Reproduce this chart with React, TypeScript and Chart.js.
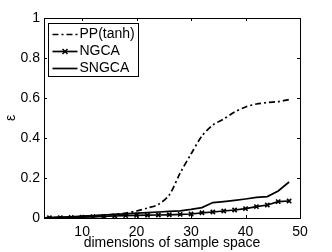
import React, { useEffect, useRef } from "react";
import { Chart, registerables } from "chart.js";

Chart.register(...registerables);

const dims = [2, 4, 6, 8, 10, 12, 14, 16, 18, 20, 22, 24, 26, 28, 30, 32, 34, 36, 38, 40, 42, 44, 46, 48];
const ppTanh = [0, 0.001, 0.002, 0.004, 0.007, 0.01, 0.014, 0.018, 0.025, 0.035, 0.05, 0.068, 0.115, 0.225, 0.32, 0.41, 0.465, 0.495, 0.53, 0.555, 0.57, 0.577, 0.582, 0.592];
const ngca = [0, 0.001, 0.002, 0.003, 0.004, 0.006, 0.008, 0.01, 0.012, 0.013, 0.014, 0.015, 0.016, 0.018, 0.02, 0.026, 0.03, 0.035, 0.04, 0.047, 0.057, 0.065, 0.082, 0.085];
const sngca = [0, 0.002, 0.004, 0.006, 0.009, 0.012, 0.015, 0.018, 0.021, 0.024, 0.027, 0.03, 0.033, 0.036, 0.043, 0.052, 0.077, 0.082, 0.088, 0.095, 0.103, 0.107, 0.135, 0.18];
const seriesNames = ["PP(tanh)", "NGCA", "SNGCA"];
const xTicks = [10, 20, 30, 40, 50];
const yTicks = [0, 0.2, 0.4, 0.6, 0.8, 1];
const xTitle = "dimensions of sample space";
const yTitle = "ε";

const FONT = "'Liberation Sans', Arial, Helvetica, sans-serif";

const framePlugin = {
  id: "frame",
  afterDatasetsDraw(chart: any) {
    const { ctx, chartArea: a, scales } = chart;
    ctx.save();
    ctx.strokeStyle = "#000";
    ctx.lineWidth = 1;
    ctx.strokeRect(Math.round(a.left) + 0.5, Math.round(a.top) + 0.5, Math.round(a.right - a.left), Math.round(a.bottom - a.top));
    const tl = 3;
    ctx.beginPath();
    for (const t of xTicks) {
      const px = Math.round(scales.x.getPixelForValue(t)) + 0.5;
      ctx.moveTo(px, a.bottom);
      ctx.lineTo(px, a.bottom - tl);
      ctx.moveTo(px, a.top);
      ctx.lineTo(px, a.top + tl);
    }
    for (const t of yTicks) {
      const py = Math.round(scales.y.getPixelForValue(t)) + 0.5;
      ctx.moveTo(a.left, py);
      ctx.lineTo(a.left + tl, py);
      ctx.moveTo(a.right, py);
      ctx.lineTo(a.right - tl, py);
    }
    ctx.stroke();

    // legend box
    const bx = a.left + 4.5;
    const by = a.top + 5.5;
    const bw = 90;
    const bh = 53;
    ctx.fillStyle = "#fff";
    ctx.fillRect(bx, by, bw, bh);
    ctx.strokeRect(bx, by, bw, bh);
    const rowY = [by + 10.5, by + 27.5, by + 44];
    ctx.font = `14px ${FONT}`;
    ctx.textBaseline = "middle";
    ctx.textAlign = "left";
    chart.data.datasets.forEach((ds: any, i: number) => {
      const y = Math.round(rowY[i]) + 0.5;
      ctx.save();
      ctx.strokeStyle = "#000";
      ctx.lineWidth = ds.borderWidth;
      ctx.setLineDash(ds.borderDash || []);
      ctx.beginPath();
      ctx.moveTo(bx + 4, y);
      ctx.lineTo(bx + 29, y);
      ctx.stroke();
      ctx.setLineDash([]);
      if (ds.pointRadius > 0) {
        const cx = bx + 16.5;
        const r = 2.5;
        ctx.lineWidth = 1.5;
        ctx.beginPath();
        ctx.moveTo(cx - r, y - r);
        ctx.lineTo(cx + r, y + r);
        ctx.moveTo(cx - r, y + r);
        ctx.lineTo(cx + r, y - r);
        ctx.stroke();
      }
      ctx.restore();
      ctx.fillStyle = "#000";
      ctx.fillText(ds.label, bx + 31, y);
    });
    ctx.restore();
  },
};

export default function App() {
  const ref = useRef<HTMLCanvasElement | null>(null);
  useEffect(() => {
    if (!ref.current) return;
    const mk = (ys: number[]) => dims.map((d, i) => ({ x: d, y: ys[i] }));
    const chart = new Chart(ref.current, {
      type: "line",
      data: {
        datasets: [
          {
            label: seriesNames[0],
            data: mk(ppTanh),
            borderColor: "#000",
            borderWidth: 1.7,
            borderDash: [6, 3, 2, 3],
            pointRadius: 0,
            tension: 0.3,
          },
          {
            label: seriesNames[1],
            data: mk(ngca),
            borderColor: "#000",
            backgroundColor: "#000",
            borderWidth: 1.7,
            pointStyle: "crossRot",
            pointRadius: 3,
            pointBorderWidth: 1.6,
            tension: 0,
          },
          {
            label: seriesNames[2],
            data: mk(sngca),
            borderColor: "#000",
            borderWidth: 1.7,
            pointRadius: 0,
            tension: 0,
          },
        ],
      },
      options: {
        animation: false,
        responsive: false,
        maintainAspectRatio: false,
        layout: { padding: { top: 18, right: 32, left: 0, bottom: 0 } },
        plugins: { legend: { display: false }, tooltip: { enabled: false } },
        scales: {
          x: {
            type: "linear",
            min: 3,
            max: 50,
            afterBuildTicks: (s: any) => {
              s.ticks = xTicks.map((v) => ({ value: v }));
            },
            afterFit: (s: any) => {
              s.height = 34;
            },
            grid: { display: false, drawTicks: false },
            border: { display: false },
            ticks: { color: "#000", font: { family: FONT, size: 14 }, padding: 6, maxRotation: 0 },
            title: { display: true, text: xTitle, color: "#000", font: { family: FONT, size: 14 }, padding: { top: 0, bottom: 0 } },
          },
          y: {
            type: "linear",
            min: 0,
            max: 1,
            afterBuildTicks: (s: any) => {
              s.ticks = yTicks.map((v) => ({ value: v }));
            },
            afterFit: (s: any) => {
              s.width = 44;
            },
            grid: { display: false, drawTicks: false },
            border: { display: false },
            ticks: { color: "#000", font: { family: FONT, size: 14 }, padding: 4, callback: (v: any) => String(v) },
            title: { display: true, text: yTitle, color: "#000", font: { family: FONT, size: 14 }, padding: { top: 3, bottom: 0 } },
          },
        },
      },
      plugins: [framePlugin],
    });
    return () => chart.destroy();
  }, []);
  return (
    <div style={{ position: "fixed", left: 0, top: 0, width: 332, height: 252, background: "#fff" }}>
      <canvas ref={ref} width={332} height={252} style={{ display: "block", width: 332, height: 252 }} />
    </div>
  );
}
